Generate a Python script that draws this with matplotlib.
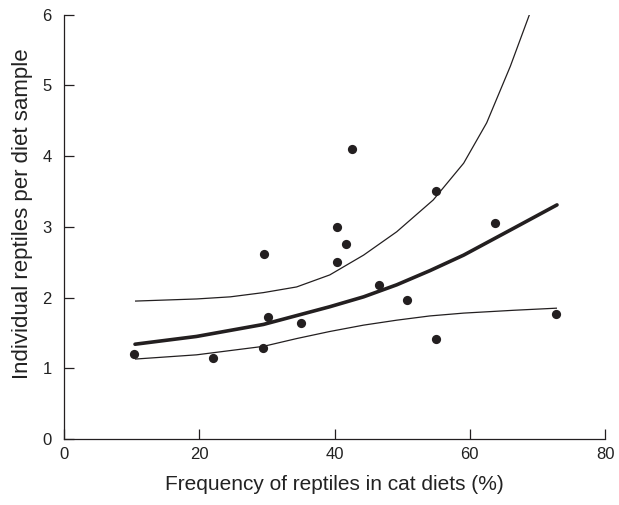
import matplotlib.pyplot as plt

plt.rcParams["font.family"] = ["Liberation Sans", "DejaVu Sans"]

# observed points
freq = [10.4, 22.0, 29.6, 29.4, 30.1, 35.0, 40.3, 40.3, 41.7, 42.6,
        46.6, 50.7, 55.0, 55.0, 63.7, 72.8]
reptiles = [1.20, 1.14, 2.62, 1.29, 1.73, 1.64, 3.00, 2.50, 2.76, 4.10,
            2.18, 1.96, 3.50, 1.42, 3.06, 1.77]

# fitted curve and confidence limits
fit_x = [10.5, 19.6, 29.5, 39.3, 44.3, 49.2, 54.1, 59.1, 66.5, 72.9]
fit_y = [1.34, 1.45, 1.62, 1.87, 2.01, 2.18, 2.38, 2.60, 2.98, 3.31]

upper_x = [10.5, 19.6, 24.6, 29.5, 34.4, 39.3, 44.3, 49.2, 54.6, 59.1, 62.5, 66.0, 68.9]
upper_y = [1.95, 1.98, 2.01, 2.07, 2.15, 2.32, 2.60, 2.93, 3.38, 3.90, 4.47, 5.27, 6.02]

lower_x = [10.5, 19.6, 29.5, 34.4, 39.3, 44.3, 49.2, 54.1, 59.1, 66.5, 72.9]
lower_y = [1.13, 1.19, 1.31, 1.42, 1.52, 1.61, 1.68, 1.74, 1.78, 1.82, 1.85]

ink = "#231f20"
txt = "#222222"

fig = plt.figure(figsize=(6.19, 5.05), dpi=100)
ax = fig.add_axes([0.1034, 0.1307, 0.8740, 0.8403])

ax.plot(upper_x, upper_y, color=ink, lw=0.9, solid_capstyle="butt", solid_joinstyle="round")
ax.plot(lower_x, lower_y, color=ink, lw=0.9, solid_capstyle="butt", solid_joinstyle="round")
ax.plot(fit_x, fit_y, color=ink, lw=2.6, solid_capstyle="round", solid_joinstyle="round")
ax.scatter(freq, reptiles, s=44, color=ink, zorder=3, linewidths=0)

ax.set_xlim(0, 80)
ax.set_ylim(0, 6)
ax.set_xticks([0, 20, 40, 60, 80])
ax.set_yticks([0, 1, 2, 3, 4, 5, 6])

for s in ["top", "right"]:
    ax.spines[s].set_visible(False)
for s in ["left", "bottom"]:
    ax.spines[s].set_linewidth(0.9)
    ax.spines[s].set_color(ink)

ax.tick_params(axis="both", direction="in", length=7, width=0.9, color=ink,
               labelsize=12, labelcolor=txt)
ax.tick_params(axis="x", pad=6)
ax.tick_params(axis="y", pad=9)

ax.set_xlabel("Frequency of reptiles in cat diets (%)", fontsize=15, color=txt, labelpad=9)
ax.set_ylabel("Individual reptiles per diet sample", fontsize=16, color=txt)
ax.yaxis.set_label_coords(-0.058, 0.531)

fig.savefig("out.png", dpi=100)
